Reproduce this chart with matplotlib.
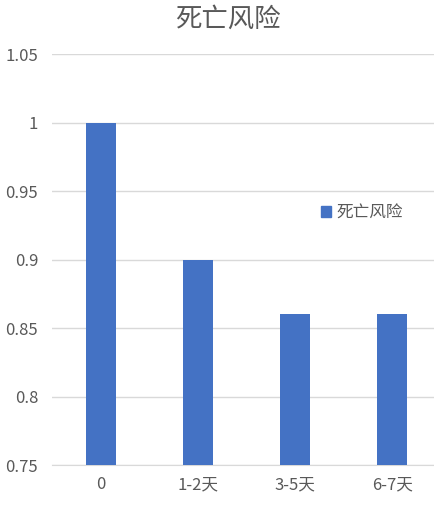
import matplotlib
matplotlib.use("Agg")
import matplotlib.pyplot as plt
from matplotlib.patches import Patch

plt.rcParams['font.family'] = ['Noto Sans CJK SC', 'DejaVu Sans']

categories = ['0', '1-2天', '3-5天', '6-7天']
risk = [1.0, 0.9, 0.86, 0.86]
series_name = '死亡风险'
yticks = [0.75, 0.8, 0.85, 0.9, 0.95, 1.0, 1.05]
ytick_labels = ['0.75', '0.8', '0.85', '0.9', '0.95', '1', '1.05']

bar_color = '#4472C4'
text_color = '#595959'
grid_color = '#D9D9D9'

fig = plt.figure(figsize=(4.34, 5.08), dpi=100)
ax = fig.add_axes([52/434, 43/508, 389/434, 411/508])

x = range(len(categories))
ax.bar(x, risk, width=0.31, color=bar_color, zorder=3)
ax.set_xlim(-0.5, 3.5)
ax.set_ylim(0.75, 1.05)
ax.set_yticks(yticks)
ax.set_yticklabels(ytick_labels)
ax.set_xticks(list(x))
ax.set_xticklabels(categories)
ax.grid(axis='y', color=grid_color, linewidth=1, zorder=0)
for s in ax.spines.values():
    s.set_visible(False)
ax.spines['bottom'].set_visible(True)
ax.spines['bottom'].set_color(grid_color)
ax.tick_params(axis='both', length=0, labelsize=12, labelcolor=text_color)
ax.tick_params(axis='y', pad=10)
ax.tick_params(axis='x', pad=8)

fig.text(228/434, 1 - 19/508, series_name, ha='center', va='center',
         fontsize=19, color=text_color)

handle = Patch(color=bar_color, label=series_name)
fig.legend(handles=[handle], loc='center left',
           bbox_to_anchor=(306/434, 1 - 213/508), frameon=False,
           handlelength=0.6, handleheight=0.6, handletextpad=0.3,
           prop={'size': 12}, labelcolor=text_color)

fig.savefig('out.png', dpi=100)
